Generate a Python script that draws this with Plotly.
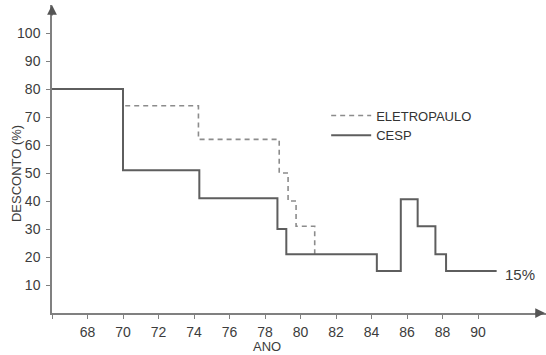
import plotly.graph_objects as go

# Data (step functions: value holds until next year breakpoint)
cesp_years = [66, 70, 74.3, 78.7, 79.2, 84.3, 85.65, 86.6, 87.6, 88.2, 91.05]
cesp_values = [80, 51, 41, 30, 21, 15, 40.6, 31, 21, 15, 15]

eletro_years = [66, 70, 74.25, 78.8, 79.3, 79.75, 80.8]
eletro_values = [80, 74, 62, 50, 40, 31, 21]

x_tickvals = [66, 68, 70, 72, 74, 76, 78, 80, 82, 84, 86, 88, 90]
x_ticktext = ["", "68", "70", "72", "74", "76", "78", "80", "82", "84", "86", "88", "90"]
y_tickvals = [10, 20, 30, 40, 50, 60, 70, 80, 90, 100]

FONT = "Liberation Sans, Arial, sans-serif"
TXT = "#3c3c3c"
AX = "#808080"

fig = go.Figure()
fig.add_trace(go.Scatter(
    x=eletro_years, y=eletro_values, mode="lines", line_shape="hv",
    name="ELETROPAULO",
    line=dict(color="#8c8c8c", width=1.6, dash="5px,4px"),
))
fig.add_trace(go.Scatter(
    x=cesp_years, y=cesp_values, mode="lines", line_shape="hv",
    name="CESP",
    line=dict(color="#5e5e5e", width=2),
))

fig.update_layout(
    width=546, height=355,
    margin=dict(l=52, r=0, t=5, b=42),
    paper_bgcolor="white", plot_bgcolor="white",
    font=dict(family=FONT, size=13, color=TXT),
    showlegend=True,
    legend=dict(
        x=0.555, y=0.69, xanchor="left", yanchor="top",
        bgcolor="rgba(0,0,0,0)", font=dict(size=13, color="#333333"),
        itemwidth=40, tracegroupgap=0,
    ),
    xaxis=dict(
        range=[66, 93.83], showgrid=False, zeroline=False,
        showline=True, linecolor=AX, linewidth=1.5,
        ticks="outside", ticklen=4, tickcolor=AX, tickwidth=1.2,
        tickvals=x_tickvals, ticktext=x_ticktext,
        tickfont=dict(size=14, color=TXT), ticklabelstandoff=1,
    ),
    yaxis=dict(
        range=[0, 110], showgrid=False, zeroline=False,
        showline=True, linecolor=AX, linewidth=1.5,
        ticks="outside", ticklen=4, tickcolor=AX, tickwidth=1.2,
        tickvals=y_tickvals,
        tickfont=dict(size=14, color=TXT), ticklabelstandoff=3,
    ),
)

annotations = [
    # y-axis arrow
    dict(x=0, y=1, xref="paper", yref="paper", ax=0, ay=12,
         showarrow=True, arrowhead=2, arrowsize=1.3, arrowwidth=1.5, arrowcolor="#555555", text=""),
    # x-axis arrow
    dict(x=1, y=0, xref="paper", yref="paper", ax=-12, ay=0,
         showarrow=True, arrowhead=2, arrowsize=1.3, arrowwidth=1.5, arrowcolor="#555555", text=""),
    dict(x=0.435, y=0, xref="paper", yref="paper", yshift=-33, text="ANO",
         showarrow=False, font=dict(size=13, color=TXT), yanchor="middle"),
    dict(x=0, y=0.451, xref="paper", yref="paper", xshift=-36, text="DESCONTO (%)",
         textangle=-90, showarrow=False, font=dict(size=13, color=TXT), xanchor="center"),
    dict(x=cesp_years[-1], y=cesp_values[-1], xref="x", yref="y", xshift=6, yshift=-3,
         text="15%", showarrow=False, xanchor="left", font=dict(size=15, color=TXT)),
]
fig.update_layout(annotations=annotations)

fig.write_html(
    "out.html",
    config={"displayModeBar": False},
    post_script="document.body.style.margin='0';document.body.style.padding='0';",
)
